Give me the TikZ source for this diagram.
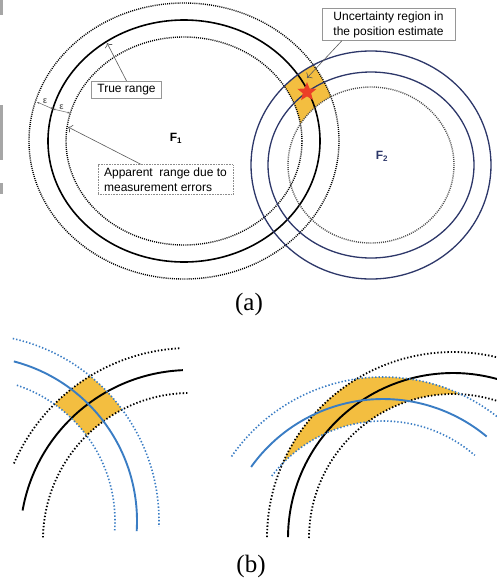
\documentclass[tikz,border=0pt]{standalone}
\usepackage{fontspec}
\setmainfont{Liberation Serif}
\setsansfont{Liberation Sans}
\usepackage{xcolor}
\usetikzlibrary{shapes.geometric, arrows.meta, positioning, calc}

\definecolor{regionorange}{RGB}{243,190,64}
\definecolor{rangeblue}{RGB}{58,125,196}
\definecolor{navyline}{RGB}{45,55,105}
\definecolor{starred}{RGB}{236,62,38}
\definecolor{boxgray}{RGB}{150,150,150}

\begin{document}
\begin{tikzpicture}[x=1pt, y=-1pt,
    % --- ring styles, part (a) ---
    ring/.style={line width=1.6pt, black},
    errring/.style={line width=1.4pt, black, dash pattern=on 1pt off 1.1pt},
    ringtwo/.style={line width=1.3pt, navyline},
    errtwo/.style={line width=1.4pt, black!70, dash pattern=on 1pt off 1.1pt},
    % --- arc styles, part (b) ---
    bksolid/.style={line width=1.9pt, black},
    bkdot/.style={line width=1.8pt, black, dash pattern=on 1.4pt off 2pt},
    blsolid/.style={line width=1.9pt, rangeblue},
    bldot/.style={line width=1.6pt, rangeblue, dash pattern=on 1.4pt off 2pt},
    % --- text and arrow styles ---
    callout/.style={draw=boxgray, line width=0.6pt, fill=white, align=left,
        font=\sffamily\fontsize{12}{15}\selectfont, inner xsep=6pt, inner ysep=3pt},
    flbl/.style={font=\sffamily\bfseries\fontsize{12}{13}\selectfont, inner sep=0pt},
    epslbl/.style={font=\sffamily\bfseries\fontsize{9}{10}\selectfont, inner sep=0.5pt},
    arr/.style={-{To[length=4pt]}, line width=0.6pt, black!65},
    epsarr/.style={{Stealth[length=2.5pt,width=2pt]}-{Stealth[length=2.5pt,width=2pt]},
        line width=0.5pt, black!60},
    caplbl/.style={font=\fontsize{25}{28}\selectfont}
]
\useasboundingbox (0,0) rectangle (497,579);

%%% ================= EDGE MARKS =================
\fill[black!35] (0,0) rectangle (3,15);
\fill[black!35] (0,105) rectangle (3,160);
\fill[black!35] (0,183) rectangle (3,194);

%%% ================= PART (a) =================
\coordinate (F1c) at (184,141);
\coordinate (F2c) at (371,165);

%% uncertainty region
\begin{scope}[even odd rule]
    \clip (270,45) rectangle (350,140);
    \clip (F1c) ellipse[x radius=155, y radius=138]
        (F1c) ellipse[x radius=118, y radius=104];
    \fill[regionorange] (F2c) ellipse[x radius=120, y radius=114]
        (F2c) ellipse[x radius=83, y radius=78];
\end{scope}

%% ranges of F1
\draw[errring] (F1c) ellipse[x radius=155, y radius=138];
\draw[ring]    (F1c) ellipse[x radius=136, y radius=121];
\draw[errring] (F1c) ellipse[x radius=118, y radius=104];

%% ranges of F2
\draw[ringtwo] (F2c) ellipse[x radius=120, y radius=114];
\draw[ringtwo] (F2c) ellipse[x radius=103, y radius=93];
\draw[errtwo]  (F2c) ellipse[x radius=83, y radius=78];

\node (star) [star, star points=5, star point ratio=2.3, minimum size=20pt,
    inner sep=0pt, fill=starred] at (307,92) {};

\node (f1) [flbl] at (176,138) {F\textsubscript{1}};
\node (f2) [flbl, text=navyline] at (382,156) {F\textsubscript{2}};

%% callouts
\node (truebox) [callout] at (126.5,89.5) {True range};
\node (uncbox)  [callout, minimum width=133pt] at (388.5,24.5)
    {Uncertainty region in\\the position estimate};
\node (appbox)  [callout, draw=black!45, densely dotted] at (165.5,179.5)
    {Apparent~ range due to\\measurement errors};

\coordinate (trueTip) at (107,43);
\coordinate (uncTip)  at (307,78);
\coordinate (appTip)  at (68,127);
\coordinate (e0) at (37,102);
\coordinate (e1) at (53,109);
\coordinate (e2) at (70,113);

\draw [arr] (truebox.north) -- (trueTip);
\draw [arr] ([xshift=20pt]uncbox.south west) -- (uncTip);
\draw [arr] ([xshift=43pt]appbox.north west) -- (appTip);

\draw [epsarr] (e0) -- node[epslbl, above=1pt] {ε} (e1);
\draw [epsarr] (e1) -- node[epslbl, above=1pt] {ε} (e2);

\node (capA) [caplbl] at (249,304) {(a)};

%%% ================= PART (b), LEFT =================
\coordinate (BLk) at (190,540);
\coordinate (BLb) at (-28,521);

\begin{scope}[even odd rule]
    \clip (0,320) rectangle (220,500);
    \clip (BLk) circle[radius=192] (BLk) circle[radius=147];
    \fill[regionorange] (BLb) circle[radius=187] (BLb) circle[radius=143];
\end{scope}

\draw[bkdot]   (BLk) ++(203.5:192) arc[start angle=203.5, end angle=267, radius=192];
\draw[bksolid] (BLk) ++(190:170) arc[start angle=190, end angle=267.6, radius=170];
\draw[bkdot]   (BLk) ++(181:147) arc[start angle=181, end angle=269, radius=147];

\draw[bldot]   (BLb) ++(-77.4:187) arc[start angle=-77.4, end angle=1.8, radius=187];
\draw[blsolid] (BLb) ++(-75.3:165) arc[start angle=-75.3, end angle=3.5, radius=165];
\draw[bldot]   (BLb) ++(-71.7:143) arc[start angle=-71.7, end angle=4.4, radius=143];

%%% ================= PART (b), RIGHT =================
\coordinate (BRk) at (453,538);
\coordinate (BRb) at (383,561);

\begin{scope}[even odd rule]
    \clip (220,330) rectangle (497,480);
    \clip (BRk) circle[radius=186] (BRk) circle[radius=144];
    \fill[regionorange] (BRb) circle[radius=184] (BRb) circle[radius=140];
\end{scope}

\draw[bkdot]   (BRk) ++(180.3:186) arc[start angle=180.3, end angle=283.7, radius=186];
\draw[bksolid] (BRk) ++(180.3:165) arc[start angle=180.3, end angle=285.5, radius=165];
\draw[bkdot]   (BRk) ++(180:144) arc[start angle=180, end angle=287.8, radius=144];

\draw[bldot]   (BRb) ++(-145.4:184) arc[start angle=-145.4, end angle=-51.7, radius=184];
\draw[blsolid] (BRb) ++(-144.5:162) arc[start angle=-144.5, end angle=-50.2, radius=162];
\draw[bldot]   (BRb) ++(-142.6:140) arc[start angle=-142.6, end angle=-49, radius=140];

\node (capB) [caplbl] at (251,566) {(b)};

\end{tikzpicture}
\end{document}
